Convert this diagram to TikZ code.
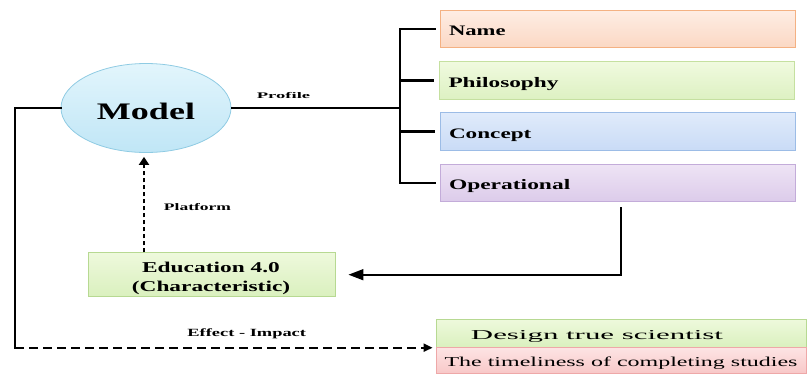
\documentclass[tikz,border=0pt]{standalone}
\usepackage{fontspec}
\setmainfont{Liberation Serif}
\usetikzlibrary{shapes.geometric,arrows.meta}

% fills and borders
\definecolor{nameTop}{HTML}{FEEDE4}\definecolor{nameBot}{HTML}{FBD8C4}\definecolor{nameLine}{HTML}{F4B183}
\definecolor{philTop}{HTML}{F0FADF}\definecolor{philBot}{HTML}{DDF1C2}\definecolor{philLine}{HTML}{C5E0A0}
\definecolor{concTop}{HTML}{E0EBFB}\definecolor{concBot}{HTML}{C9DBF6}\definecolor{concLine}{HTML}{9CBCE6}
\definecolor{operTop}{HTML}{EEE4F5}\definecolor{operBot}{HTML}{DCCBEA}\definecolor{operLine}{HTML}{C3ACD9}
\definecolor{greenTop}{HTML}{EEF9DC}\definecolor{greenBot}{HTML}{DAF0BE}\definecolor{greenLine}{HTML}{B7D992}
\definecolor{pinkTop}{HTML}{FDE4E4}\definecolor{pinkBot}{HTML}{F8C8C8}\definecolor{pinkLine}{HTML}{EEA8A8}
\definecolor{ovalTop}{HTML}{E2F5FC}\definecolor{ovalBot}{HTML}{C0E6F6}\definecolor{ovalLine}{HTML}{8FCBE3}

% stretch a text horizontally to a given width, keeping its height
\newcommand{\widetext}[2]{\resizebox{#1}{\height}{#2}}

\tikzset{
  rowbox/.style={rectangle, minimum width=355pt, minimum height=37.5pt,
    text width=337pt, align=left, inner xsep=9pt, inner ysep=0pt,
    text height=13pt, text depth=0pt, line width=0.8pt,
    font=\fontsize{14.5}{17}\selectfont\bfseries},
  resbox/.style={rectangle, minimum width=370pt, inner sep=0pt, line width=0.8pt,
    font=\fontsize{13.6}{16}\selectfont},
  tag/.style={anchor=base, inner sep=0pt, font=\bfseries},
  link/.style={line width=2pt, black},
}

\begin{document}
\begin{tikzpicture}[x=1pt, y=-1pt]
\useasboundingbox (0,0) rectangle (809,375);

% central oval
\node[ellipse, minimum width=170pt, minimum height=89pt, inner sep=0pt,
      top color=ovalTop, bottom color=ovalBot, draw=ovalLine, line width=0.8pt,
      text height=22pt, text depth=0pt,
      font=\fontsize{23.7}{28}\selectfont\bfseries] (model) at (146,108)
      {\widetext{98pt}{Model}};

% profile boxes
\node[rowbox, top color=nameTop, bottom color=nameBot, draw=nameLine] (name) at (617.5,29)
  {\widetext{56.6pt}{Name}};
\node[rowbox, top color=philTop, bottom color=philBot, draw=philLine] (philo) at (617,80.5)
  {\widetext{110pt}{Philosophy}};
\node[rowbox, top color=concTop, bottom color=concBot, draw=concLine] (concept) at (617.5,131.5)
  {\widetext{82.4pt}{Concept}};
\node[rowbox, top color=operTop, bottom color=operBot, draw=operLine] (oper) at (617.5,183)
  {\widetext{121.3pt}{Operational}};

% education box
\node[rectangle, minimum width=246.7pt, minimum height=44pt, inner sep=0pt,
      top color=greenTop, bottom color=greenBot, draw=greenLine, line width=0.8pt] (edu) at (211.7,274.7) {};
\node[align=center, inner sep=0pt, font=\fontsize{15}{18.3}\selectfont\bfseries] (edutext)
  at (211,278.35) {\widetext{137.7pt}{Education 4.0}\\\widetext{158.3pt}{(Characteristic)}};

% result boxes
\node[resbox, minimum height=28pt, top color=greenTop, bottom color=greenBot, draw=greenLine] (design) at (621,333.3) {};
\node[tag, font=\fontsize{13.6}{16}\selectfont] (designtext) at (597,339.3) {\widetext{252pt}{Design true scientist}};
\node[resbox, minimum height=26pt, top color=pinkTop, bottom color=pinkBot, draw=pinkLine,
      text height=12.8pt, text depth=0pt] (time) at (621,360.3)
  {\widetext{353pt}{The timeliness of completing studies}};

% profile link and bracket
\coordinate (brk) at (400,107);
\draw[link, line width=1.8pt] (model.east) -- (model.east -| brk);
\draw[link, line width=2.2pt, line cap=rect] ([xshift=-5pt]name.west) -- (name.west -| brk) -- (oper.west -| brk) -- ([xshift=-5pt]oper.west);
\draw[link, line width=2.2pt] (philo.west -| brk) -- ([xshift=-5pt]philo.west);
\draw[link, line width=2.2pt] (concept.west -| brk) -- ([xshift=-5pt]concept.west);
\node[tag, font=\fontsize{8.6}{10}\selectfont\bfseries] (profile) at (283.5,98.3) {\widetext{53.3pt}{Profile}};

% operational back to education
\draw[link, line width=1.6pt, -{Triangle[length=15pt, width=11pt]}]
  ([xshift=3.5pt, yshift=-5pt]oper.south) |- ([xshift=13pt]edu.east);

% platform link
\coordinate (pf) at (144,0);
\draw[link, line width=2.8pt, dash pattern=on 4.5pt off 2.5pt, -{Triangle[length=8pt, width=10pt]}]
  (edu.north -| pf) -- ([yshift=-4pt]model.south -| pf);
\node[tag, font=\fontsize{10}{12}\selectfont\bfseries] (platform) at (197.5,210) {\widetext{67pt}{Platform}};

% effect link
\coordinate (tip) at ([xshift=-3pt]design.south west);
\coordinate (corner) at (15,0);
\draw[link, line cap=rect] (model.west) -| (corner |- tip);
\draw[link, dash pattern=on 9pt off 5pt, -{Triangle[length=9pt, width=8pt]}]
  (corner |- tip) -- (tip);
\node[tag, font=\fontsize{11}{13}\selectfont\bfseries] (effect) at (246.7,336.7) {\widetext{118.7pt}{Effect - Impact}};
\end{tikzpicture}
\end{document}
